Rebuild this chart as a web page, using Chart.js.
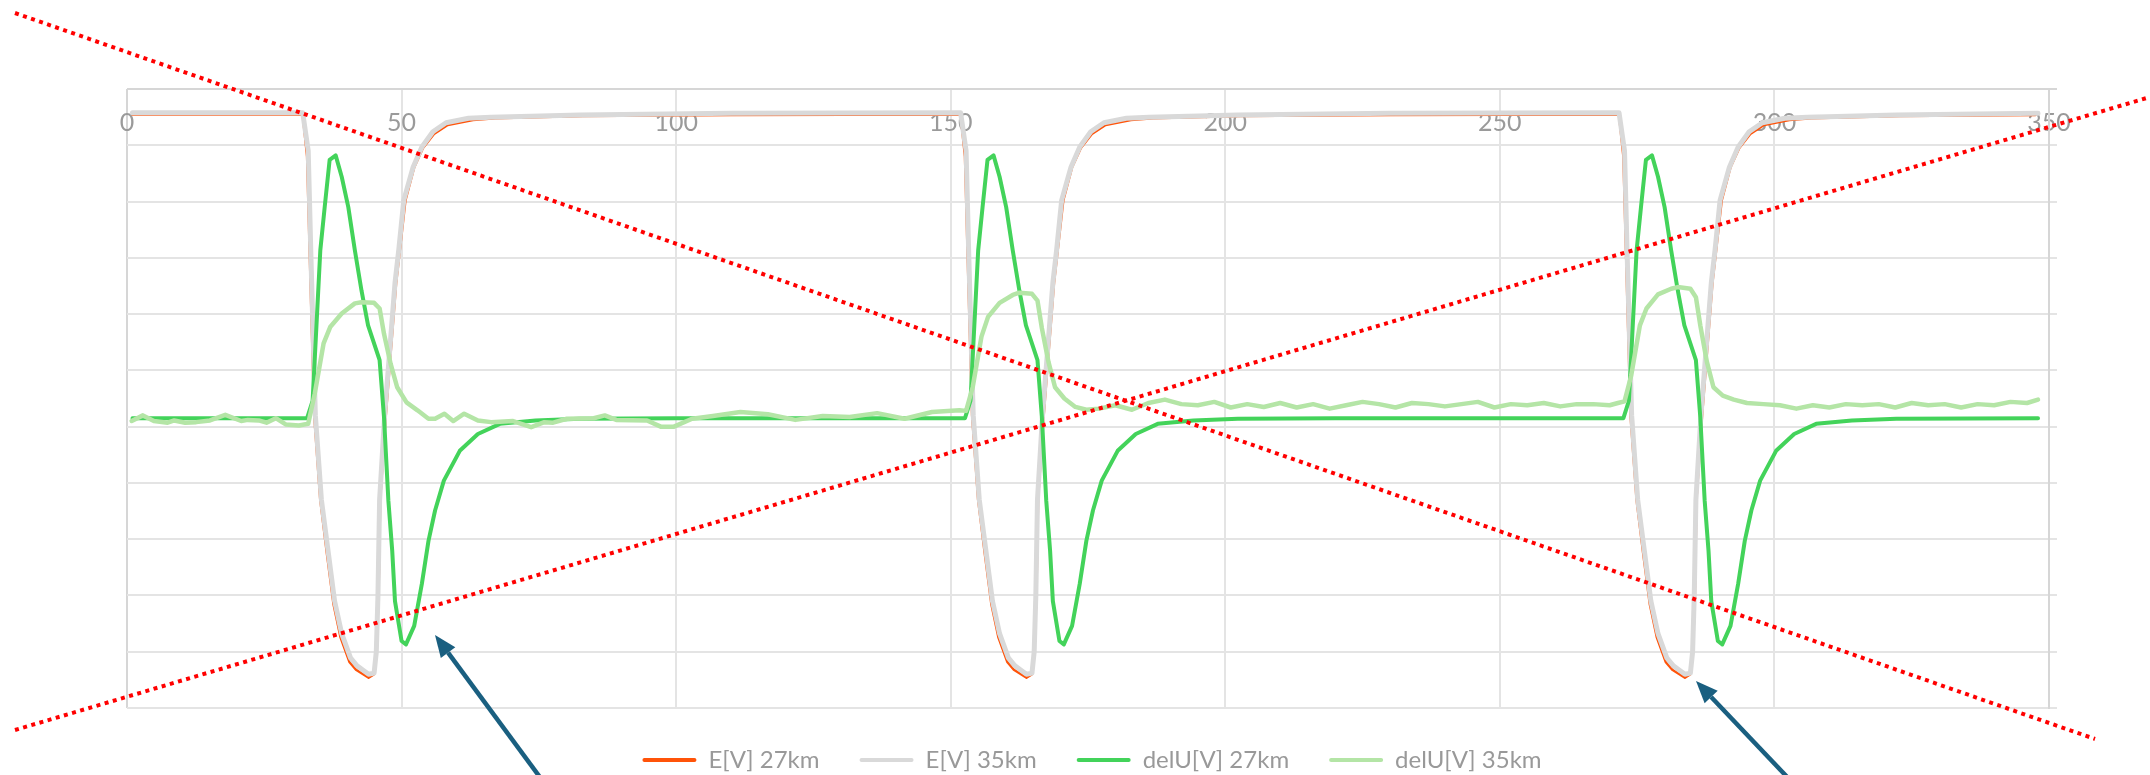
<!DOCTYPE html>
<html>
<head>
<meta charset="utf-8">
<script src="https://cdn.jsdelivr.net/npm/chart.js@4.4.1/dist/chart.umd.min.js"></script>
<style>
    html, body { margin: 0; padding: 0; background: #fff; }
    #wrap { width: 2150px; height: 775px; }
</style>
</head>
<body>
<div id="wrap"><canvas id="myChart" width="2150" height="775"></canvas></div>
<script>
// series, [x, y] pairs (y axis is unlabelled, one unit per gridline)
const e27 = [[1,0.545],[32,0.545],[32.8,-0.2],[33.3,-2],[34.1,-4.8],[35.2,-6.3],[36.4,-7.25],[37.6,-8.15],[38.9,-8.75],[40.5,-9.18],[41.7,-9.32],[43,-9.4],[44,-9.46],[45,-9.4],[45.4,-9],[45.8,-8],[46.1,-6.3],[47.1,-4.83],[47.8,-3.95],[49,-2.45],[49.7,-1.85],[50.7,-0.98],[52.3,-0.39],[53.9,-0.05],[55.9,0.2],[58.4,0.36],[63,0.45],[67,0.48],[83,0.52],[110,0.54],[151.8,0.545],
    [152.6,-0.2],[153.1,-2],[153.9,-4.8],[155,-6.3],[156.2,-7.25],[157.4,-8.15],[158.7,-8.75],[160.3,-9.18],[161.5,-9.32],[162.8,-9.4],[163.8,-9.46],[164.8,-9.4],[165.2,-9],[165.6,-8],[165.9,-6.3],[166.9,-4.83],[167.6,-3.95],[168.8,-2.45],[169.5,-1.85],[170.5,-0.98],[172.1,-0.39],[173.7,-0.05],[175.7,0.2],[178.2,0.36],[182.8,0.45],[186.8,0.48],[202.8,0.52],[230,0.54],[271.7,0.545],
    [272.5,-0.2],[273,-2],[273.8,-4.8],[274.9,-6.3],[276.1,-7.25],[277.3,-8.15],[278.6,-8.75],[280.2,-9.18],[281.4,-9.32],[282.7,-9.4],[283.7,-9.46],[284.7,-9.4],[285.1,-9],[285.5,-8],[285.8,-6.3],[286.8,-4.83],[287.5,-3.95],[288.7,-2.45],[289.4,-1.85],[290.4,-0.98],[292,-0.39],[293.6,-0.05],[295.6,0.2],[298.1,0.36],[302.7,0.45],[306.7,0.48],[322.7,0.52],[347.5,0.54]];

const e35 = [[1,0.58],[16,0.58],[32,0.578],[33,-0.1],[33.5,-2],[34.3,-4.8],[35.4,-6.3],[36.6,-7.2],[37.8,-8.1],[39.1,-8.68],[40.7,-9.11],[41.9,-9.25],[43,-9.33],[44,-9.4],[45,-9.38],[45.4,-9],[45.7,-8],[46,-6.3],[46.9,-4.83],[47.6,-3.95],[48.8,-2.45],[49.5,-1.85],[50.4,-0.98],[52.1,-0.39],[53.7,-0.03],[55.7,0.24],[58.1,0.4],[62.2,0.48],[66.3,0.5],[82.5,0.54],[110,0.57],[151.8,0.58],
    [152.8,-0.1],[153.3,-2],[154.1,-4.8],[155.2,-6.3],[156.4,-7.2],[157.6,-8.1],[158.9,-8.68],[160.5,-9.11],[161.7,-9.25],[162.8,-9.33],[163.8,-9.4],[164.8,-9.38],[165.2,-9],[165.5,-8],[165.8,-6.3],[166.7,-4.83],[167.4,-3.95],[168.6,-2.45],[169.3,-1.85],[170.2,-0.98],[171.9,-0.39],[173.5,-0.03],[175.5,0.24],[177.9,0.4],[182,0.48],[186.1,0.5],[202.3,0.54],[230,0.57],[271.7,0.58],
    [272.7,-0.1],[273.2,-2],[274,-4.8],[275.1,-6.3],[276.3,-7.2],[277.5,-8.1],[278.8,-8.68],[280.4,-9.11],[281.6,-9.25],[282.7,-9.33],[283.7,-9.4],[284.7,-9.38],[285.1,-9],[285.4,-8],[285.7,-6.3],[286.6,-4.83],[287.3,-3.95],[288.5,-2.45],[289.2,-1.85],[290.1,-0.98],[291.8,-0.39],[293.4,-0.03],[295.4,0.24],[297.8,0.4],[301.9,0.48],[306,0.5],[322.2,0.54],[348,0.57]];

const delU27 = [[1,-4.85],[32.8,-4.85],[33.8,-4.54],[35.2,-1.87],[36,-1.1],[36.9,-0.26],[38,-0.18],[39.1,-0.56],[40.3,-1.1],[41.5,-1.87],[42.7,-2.58],[43.9,-3.2],[46,-3.82],[46.8,-4.83],[47.6,-6.32],[48.3,-7.21],[48.8,-8.1],[50,-8.81],[50.8,-8.87],[52.3,-8.54],[53.7,-7.79],[54.9,-7.03],[56.1,-6.49],[57.7,-5.96],[60.6,-5.43],[63.9,-5.13],[67.9,-4.95],[74.4,-4.89],[82.5,-4.86],[100,-4.85],[152.6,-4.85],
    [153.6,-4.54],[155,-1.87],[155.8,-1.1],[156.7,-0.26],[157.8,-0.18],[158.9,-0.56],[160.1,-1.1],[161.3,-1.87],[162.5,-2.58],[163.7,-3.2],[165.8,-3.82],[166.6,-4.83],[167.4,-6.32],[168.1,-7.21],[168.6,-8.1],[169.8,-8.81],[170.6,-8.87],[172.1,-8.54],[173.5,-7.79],[174.7,-7.03],[175.9,-6.49],[177.5,-5.96],[180.4,-5.43],[183.7,-5.13],[187.7,-4.95],[194.2,-4.89],[202.3,-4.86],[220,-4.85],[272.5,-4.85],
    [273.5,-4.54],[274.9,-1.87],[275.7,-1.1],[276.6,-0.26],[277.7,-0.18],[278.8,-0.56],[280,-1.1],[281.2,-1.87],[282.4,-2.58],[283.6,-3.2],[285.7,-3.82],[286.5,-4.83],[287.3,-6.32],[288,-7.21],[288.5,-8.1],[289.7,-8.81],[290.5,-8.87],[292,-8.54],[293.4,-7.79],[294.6,-7.03],[295.8,-6.49],[297.4,-5.96],[300.3,-5.43],[303.6,-5.13],[307.6,-4.95],[314.1,-4.89],[322.2,-4.86],[348,-4.85]];

const delU35 = [[0.85,-4.9],[2.9,-4.8],[4.9,-4.9],[7.4,-4.93],[8.6,-4.89],[10.6,-4.93],[12.6,-4.92],[15.1,-4.89],[17.9,-4.79],[20.8,-4.9],[22,-4.88],[24,-4.89],[25.4,-4.93],[27.1,-4.85],[28.9,-4.96],[31.3,-4.98],[33,-4.95],[34.2,-4.41],[35.8,-3.52],[37,-3.23],[39.1,-2.99],[41.5,-2.81],[42.7,-2.79],[45,-2.8],[46,-2.9],[46.8,-3.35],[48,-3.88],[49.2,-4.3],[50.9,-4.57],[52.9,-4.71],[54.9,-4.86],[56.1,-4.86],[57.8,-4.77],[59.4,-4.9],[61.4,-4.77],[63.9,-4.89],[66.3,-4.92],[70.3,-4.9],[73.6,-5.01],[76,-4.92],[77.6,-4.93],[80.1,-4.86],[85,-4.85],[87,-4.8],[89.1,-4.88],[94.7,-4.89],[97.2,-5],[99.6,-5],[102.9,-4.86],[106.7,-4.81],[111.7,-4.74],[116.7,-4.78],[121.7,-4.88],[126.7,-4.81],[131.6,-4.83],[136.6,-4.76],[141.6,-4.86],[146.6,-4.74],[151.6,-4.71],
    [152.8,-4.72],[154,-4.3],[155.6,-3.4],[156.8,-3.05],[158.9,-2.8],[161.3,-2.66],[162.5,-2.62],[164.8,-2.64],[165.8,-2.76],[166.6,-3.25],[167.8,-3.85],[169,-4.3],[170.7,-4.5],[172.7,-4.65],[174.7,-4.7],[177,-4.68],[180,-4.62],[183,-4.7],[186,-4.58],[189,-4.52],[192,-4.6],[195,-4.62],[198,-4.56],[201,-4.66],[204,-4.6],[207,-4.65],[210,-4.58],[213,-4.66],[216,-4.6],[219,-4.68],[222,-4.62],[225,-4.56],[228,-4.6],[231,-4.66],[234,-4.58],[237,-4.6],[240,-4.64],[243,-4.6],[246,-4.56],[249,-4.66],[252,-4.6],[255,-4.62],[258,-4.58],[261,-4.64],[264,-4.6],[267,-4.6],[270,-4.62],[271.5,-4.58],
    [272.7,-4.55],[273.9,-4.1],[275.5,-3.2],[276.7,-2.9],[278.8,-2.65],[281.2,-2.55],[282.4,-2.52],[284.7,-2.55],[285.7,-2.7],[286.5,-3.2],[287.7,-3.85],[288.9,-4.3],[290.6,-4.45],[292.6,-4.52],[295,-4.58],[298,-4.6],[301,-4.62],[304,-4.68],[307,-4.62],[310,-4.66],[313,-4.6],[316,-4.62],[319,-4.6],[322,-4.66],[325,-4.58],[328,-4.62],[331,-4.6],[334,-4.66],[337,-4.6],[340,-4.62],[343,-4.56],[346,-4.58],[348,-4.52]];

const seriesNames = ['E[V] 27km', 'E[V] 35km', 'delU[V] 27km', 'delU[V] 35km'];
const seriesColors = ['#ff5309', '#d9d9d9', '#43d35a', '#b4e5a6'];
const xRange = [0, 350];
const xStep = 50;
const yRange = [-10, 1];

// hand drawn marks laid over the chart (canvas pixels)
const crossLines = [[15, 13, 2095, 739], [15, 730, 2150, 97]];
const arrows = [[542, 780, 435, 635], [1790, 780, 1696, 681]];

const pts = arr => arr.map(p => ({x: p[0], y: p[1]}));

const overlay = {
    id: 'overlay',
    afterDraw(chart) {
        const ctx = chart.ctx;
        ctx.save();
        ctx.strokeStyle = '#ff0000';
        ctx.lineWidth = 4;
        ctx.setLineDash([4, 4.5]);
        crossLines.forEach(l => {
            ctx.beginPath();
            ctx.moveTo(l[0], l[1]);
            ctx.lineTo(l[2], l[3]);
            ctx.stroke();
        });
        ctx.setLineDash([]);
        ctx.strokeStyle = '#1a5f80';
        ctx.fillStyle = '#1a5f80';
        arrows.forEach(a => {
            const ang = Math.atan2(a[3] - a[1], a[2] - a[0]);
            const head = 22, half = 9;
            const bx = a[2] - Math.cos(ang) * head, by = a[3] - Math.sin(ang) * head;
            ctx.lineWidth = 4.5;
            ctx.beginPath();
            ctx.moveTo(a[0], a[1]);
            ctx.lineTo(bx, by);
            ctx.stroke();
            ctx.beginPath();
            ctx.moveTo(a[2], a[3]);
            ctx.lineTo(bx - Math.sin(ang) * half, by + Math.cos(ang) * half);
            ctx.lineTo(bx + Math.sin(ang) * half, by - Math.cos(ang) * half);
            ctx.closePath();
            ctx.fill();
        });
        ctx.restore();
    }
};

const widths = [2.5, 5, 4, 4.5];
const orders = [4, 3, 2, 1];
const datasets = [e27, e35, delU27, delU35].map((s, i) => ({
    label: seriesNames[i],
    data: pts(s),
    borderColor: seriesColors[i],
    backgroundColor: seriesColors[i],
    borderWidth: widths[i],
    pointRadius: 0,
    tension: 0,
    borderJoinStyle: 'round',
    borderCapStyle: 'round',
    order: orders[i]
}));

const ctx = document.getElementById('myChart').getContext('2d');
const myChart = new Chart(ctx, {
    type: 'line',
    data: { datasets: datasets },
    plugins: [overlay],
    options: {
        responsive: false,
        animation: false,
        devicePixelRatio: 1,
        layout: { padding: { left: 127, top: 89, right: 93, bottom: -7 } },
        plugins: {
            tooltip: { enabled: false },
            legend: {
                position: 'bottom',
                labels: {
                    boxWidth: 54,
                    boxHeight: 4,
                    padding: 40,
                    color: '#999999',
                    font: { family: 'Lato', size: 24 },
                    sort: (a, b) => a.datasetIndex - b.datasetIndex,
                    generateLabels: chart => Chart.defaults.plugins.legend.labels.generateLabels(chart).map(l => Object.assign(l, { lineWidth: 0, borderRadius: 2 }))
                }
            }
        },
        scales: {
            x: {
                type: 'linear',
                position: { y: yRange[1] },
                min: xRange[0],
                max: xRange[1],
                border: { display: false },
                grid: {
                    drawTicks: false,
                    lineWidth: 2,
                    color: c => c.tick && c.tick.value === xRange[0] ? '#d6d6d6' : '#e4e4e4'
                },
                ticks: {
                    stepSize: xStep,
                    padding: 19,
                    maxRotation: 0,
                    color: '#9a9a9a',
                    font: { family: 'Lato', size: 25 }
                }
            },
            y: {
                type: 'linear',
                position: 'right',
                min: yRange[0],
                max: yRange[1],
                border: { display: true, color: '#d6d6d6', width: 2 },
                grid: {
                    lineWidth: 2,
                    tickLength: 8,
                    color: c => c.tick && c.tick.value === yRange[1] ? '#d6d6d6' : '#e4e4e4'
                },
                ticks: { stepSize: 1, display: false }
            }
        }
    }
});
</script>
</body>
</html>
